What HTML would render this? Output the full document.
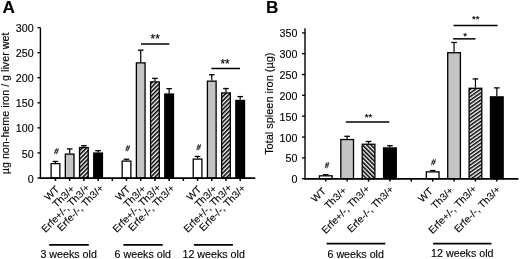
<!DOCTYPE html>
<html><head><meta charset="utf-8"><title>Figure</title>
<style>html,body{margin:0;padding:0;background:#fff;}body{width:520px;height:259px;overflow:hidden;}svg{display:block;font-family:"Liberation Sans", sans-serif;will-change:transform;}text{fill:#000;stroke:#000;stroke-width:0.12px;}</style>
</head><body>
<svg width="520" height="259" viewBox="0 0 520 259">
<defs>
<pattern id="hatA" patternUnits="userSpaceOnUse" width="3" height="3" patternTransform="rotate(45)"><rect x="0" y="0" width="3" height="3" fill="#fff"/><rect x="0" y="0" width="1.6" height="3" fill="#000"/></pattern>
<pattern id="hatB" patternUnits="userSpaceOnUse" width="3" height="3" patternTransform="rotate(-45)"><rect x="0" y="0" width="3" height="3" fill="#fff"/><rect x="0" y="0" width="1.6" height="3" fill="#000"/></pattern>
<pattern id="hatC" patternUnits="userSpaceOnUse" width="2.95" height="3" patternTransform="rotate(55)"><rect x="0" y="0" width="2.95" height="3" fill="#fff"/><rect x="0" y="0" width="1.5" height="3" fill="#000"/></pattern>
</defs>
<rect width="520" height="259" fill="#fff"/>
<text x="2.4" y="13.4" font-size="17.2" font-weight="bold">A</text>
<text x="266" y="13.4" font-size="17.2" font-weight="bold">B</text>
<line x1="55.46" y1="162.96" x2="55.46" y2="161.46" stroke="#000" stroke-width="1.2"/>
<line x1="52.66" y1="161.46" x2="58.26" y2="161.46" stroke="#000" stroke-width="1.3"/>
<rect x="51.11" y="163.61" width="8.7" height="14.39" fill="#fff" stroke="#000" stroke-width="1.3"/>
<line x1="69.67" y1="153.44" x2="69.67" y2="148.92" stroke="#000" stroke-width="1.2"/>
<line x1="66.87" y1="148.92" x2="72.47" y2="148.92" stroke="#000" stroke-width="1.3"/>
<rect x="65.32" y="154.09" width="8.7" height="23.91" fill="#c4c4c4" stroke="#000" stroke-width="1.3"/>
<line x1="83.88" y1="146.92" x2="83.88" y2="145.67" stroke="#000" stroke-width="1.2"/>
<line x1="81.08" y1="145.67" x2="86.68" y2="145.67" stroke="#000" stroke-width="1.3"/>
<rect x="79.53" y="147.57" width="8.7" height="30.43" fill="url(#hatA)" stroke="#000" stroke-width="1.3"/>
<line x1="98.09" y1="152.43" x2="98.09" y2="150.68" stroke="#000" stroke-width="1.2"/>
<line x1="95.29" y1="150.68" x2="100.89" y2="150.68" stroke="#000" stroke-width="1.3"/>
<rect x="93.74" y="153.08" width="8.7" height="24.92" fill="#000" stroke="#000" stroke-width="1.3"/>
<line x1="126.51" y1="160.45" x2="126.51" y2="159.25" stroke="#000" stroke-width="1.2"/>
<line x1="123.71" y1="159.25" x2="129.31" y2="159.25" stroke="#000" stroke-width="1.3"/>
<rect x="122.16" y="161.1" width="8.7" height="16.9" fill="#fff" stroke="#000" stroke-width="1.3"/>
<line x1="140.72" y1="62.2" x2="140.72" y2="50.17" stroke="#000" stroke-width="1.2"/>
<line x1="137.92" y1="50.17" x2="143.52" y2="50.17" stroke="#000" stroke-width="1.3"/>
<rect x="136.37" y="62.85" width="8.7" height="115.15" fill="#c4c4c4" stroke="#000" stroke-width="1.3"/>
<line x1="154.93" y1="81.25" x2="154.93" y2="78.39" stroke="#000" stroke-width="1.2"/>
<line x1="152.13" y1="78.39" x2="157.73" y2="78.39" stroke="#000" stroke-width="1.3"/>
<rect x="150.58" y="81.9" width="8.7" height="96.1" fill="url(#hatA)" stroke="#000" stroke-width="1.3"/>
<line x1="169.14" y1="93.38" x2="169.14" y2="88.62" stroke="#000" stroke-width="1.2"/>
<line x1="166.34" y1="88.62" x2="171.94" y2="88.62" stroke="#000" stroke-width="1.3"/>
<rect x="164.79" y="94.03" width="8.7" height="83.97" fill="#000" stroke="#000" stroke-width="1.3"/>
<line x1="197.56" y1="158.45" x2="197.56" y2="156.44" stroke="#000" stroke-width="1.2"/>
<line x1="194.76" y1="156.44" x2="200.36" y2="156.44" stroke="#000" stroke-width="1.3"/>
<rect x="193.21" y="159.1" width="8.7" height="18.9" fill="#fff" stroke="#000" stroke-width="1.3"/>
<line x1="211.77" y1="80.5" x2="211.77" y2="74.73" stroke="#000" stroke-width="1.2"/>
<line x1="208.97" y1="74.73" x2="214.57" y2="74.73" stroke="#000" stroke-width="1.3"/>
<rect x="207.42" y="81.15" width="8.7" height="96.85" fill="#c4c4c4" stroke="#000" stroke-width="1.3"/>
<line x1="225.98" y1="92.28" x2="225.98" y2="88.52" stroke="#000" stroke-width="1.2"/>
<line x1="223.18" y1="88.52" x2="228.78" y2="88.52" stroke="#000" stroke-width="1.3"/>
<rect x="221.63" y="92.93" width="8.7" height="85.07" fill="url(#hatA)" stroke="#000" stroke-width="1.3"/>
<line x1="240.19" y1="99.8" x2="240.19" y2="96.59" stroke="#000" stroke-width="1.2"/>
<line x1="237.39" y1="96.59" x2="242.99" y2="96.59" stroke="#000" stroke-width="1.3"/>
<rect x="235.84" y="100.45" width="8.7" height="77.55" fill="#000" stroke="#000" stroke-width="1.3"/>
<line x1="40.4" y1="27.6" x2="40.4" y2="178.7" stroke="#000" stroke-width="1.4"/>
<line x1="39.7" y1="178.1" x2="255.3" y2="178.1" stroke="#000" stroke-width="1.8"/>
<line x1="37.4" y1="178" x2="40.4" y2="178" stroke="#000" stroke-width="1.3"/>
<text transform="translate(33.6,182.6) scale(1.07,1)" text-anchor="end" font-size="10">0</text>
<line x1="37.4" y1="152.94" x2="40.4" y2="152.94" stroke="#000" stroke-width="1.3"/>
<text transform="translate(33.6,157.53) scale(1.07,1)" text-anchor="end" font-size="10">50</text>
<line x1="37.4" y1="127.87" x2="40.4" y2="127.87" stroke="#000" stroke-width="1.3"/>
<text transform="translate(33.6,132.47) scale(1.07,1)" text-anchor="end" font-size="10">100</text>
<line x1="37.4" y1="102.81" x2="40.4" y2="102.81" stroke="#000" stroke-width="1.3"/>
<text transform="translate(33.6,107.41) scale(1.07,1)" text-anchor="end" font-size="10">150</text>
<line x1="37.4" y1="77.74" x2="40.4" y2="77.74" stroke="#000" stroke-width="1.3"/>
<text transform="translate(33.6,82.34) scale(1.07,1)" text-anchor="end" font-size="10">200</text>
<line x1="37.4" y1="52.68" x2="40.4" y2="52.68" stroke="#000" stroke-width="1.3"/>
<text transform="translate(33.6,57.28) scale(1.07,1)" text-anchor="end" font-size="10">250</text>
<line x1="37.4" y1="27.61" x2="40.4" y2="27.61" stroke="#000" stroke-width="1.3"/>
<text transform="translate(33.6,32.21) scale(1.07,1)" text-anchor="end" font-size="10">300</text>
<line x1="55.46" y1="178" x2="55.46" y2="180.9" stroke="#000" stroke-width="1.5"/>
<line x1="69.67" y1="178" x2="69.67" y2="180.9" stroke="#000" stroke-width="1.5"/>
<line x1="83.88" y1="178" x2="83.88" y2="180.9" stroke="#000" stroke-width="1.5"/>
<line x1="98.09" y1="178" x2="98.09" y2="180.9" stroke="#000" stroke-width="1.5"/>
<line x1="112.3" y1="178" x2="112.3" y2="180.9" stroke="#000" stroke-width="1.5"/>
<line x1="126.51" y1="178" x2="126.51" y2="180.9" stroke="#000" stroke-width="1.5"/>
<line x1="140.72" y1="178" x2="140.72" y2="180.9" stroke="#000" stroke-width="1.5"/>
<line x1="154.93" y1="178" x2="154.93" y2="180.9" stroke="#000" stroke-width="1.5"/>
<line x1="169.14" y1="178" x2="169.14" y2="180.9" stroke="#000" stroke-width="1.5"/>
<line x1="183.35" y1="178" x2="183.35" y2="180.9" stroke="#000" stroke-width="1.5"/>
<line x1="197.56" y1="178" x2="197.56" y2="180.9" stroke="#000" stroke-width="1.5"/>
<line x1="211.77" y1="178" x2="211.77" y2="180.9" stroke="#000" stroke-width="1.5"/>
<line x1="225.98" y1="178" x2="225.98" y2="180.9" stroke="#000" stroke-width="1.5"/>
<line x1="240.19" y1="178" x2="240.19" y2="180.9" stroke="#000" stroke-width="1.5"/>
<line x1="325.78" y1="175.16" x2="325.78" y2="174.7" stroke="#000" stroke-width="1.2"/>
<line x1="322.98" y1="174.7" x2="328.58" y2="174.7" stroke="#000" stroke-width="1.3"/>
<rect x="319.43" y="175.81" width="12.7" height="2.89" fill="#fff" stroke="#000" stroke-width="1.3"/>
<line x1="347.16" y1="138.91" x2="347.16" y2="136.29" stroke="#000" stroke-width="1.2"/>
<line x1="344.36" y1="136.29" x2="349.96" y2="136.29" stroke="#000" stroke-width="1.3"/>
<rect x="340.81" y="139.56" width="12.7" height="39.14" fill="#c4c4c4" stroke="#000" stroke-width="1.3"/>
<line x1="368.54" y1="143.58" x2="368.54" y2="141.5" stroke="#000" stroke-width="1.2"/>
<line x1="365.74" y1="141.5" x2="371.34" y2="141.5" stroke="#000" stroke-width="1.3"/>
<rect x="362.19" y="144.23" width="12.7" height="34.47" fill="url(#hatB)" stroke="#000" stroke-width="1.3"/>
<line x1="389.92" y1="147.29" x2="389.92" y2="145.71" stroke="#000" stroke-width="1.2"/>
<line x1="387.12" y1="145.71" x2="392.72" y2="145.71" stroke="#000" stroke-width="1.3"/>
<rect x="383.57" y="147.94" width="12.7" height="30.76" fill="#000" stroke="#000" stroke-width="1.3"/>
<line x1="432.68" y1="171.2" x2="432.68" y2="170.53" stroke="#000" stroke-width="1.2"/>
<line x1="429.88" y1="170.53" x2="435.48" y2="170.53" stroke="#000" stroke-width="1.3"/>
<rect x="426.33" y="171.85" width="12.7" height="6.85" fill="#fff" stroke="#000" stroke-width="1.3"/>
<line x1="454.06" y1="52.05" x2="454.06" y2="42.47" stroke="#000" stroke-width="1.2"/>
<line x1="451.26" y1="42.47" x2="456.86" y2="42.47" stroke="#000" stroke-width="1.3"/>
<rect x="447.71" y="52.7" width="12.7" height="126" fill="#c4c4c4" stroke="#000" stroke-width="1.3"/>
<line x1="475.44" y1="87.63" x2="475.44" y2="78.92" stroke="#000" stroke-width="1.2"/>
<line x1="472.64" y1="78.92" x2="478.24" y2="78.92" stroke="#000" stroke-width="1.3"/>
<rect x="469.09" y="88.28" width="12.7" height="90.42" fill="url(#hatC)" stroke="#000" stroke-width="1.3"/>
<line x1="496.82" y1="96.21" x2="496.82" y2="87.88" stroke="#000" stroke-width="1.2"/>
<line x1="494.02" y1="87.88" x2="499.62" y2="87.88" stroke="#000" stroke-width="1.3"/>
<rect x="490.47" y="96.86" width="12.7" height="81.84" fill="#000" stroke="#000" stroke-width="1.3"/>
<line x1="305" y1="28.2" x2="305" y2="179.4" stroke="#000" stroke-width="1.4"/>
<line x1="304.3" y1="178.8" x2="518.4" y2="178.8" stroke="#000" stroke-width="1.8"/>
<line x1="302" y1="178.7" x2="305" y2="178.7" stroke="#000" stroke-width="1.3"/>
<text transform="translate(297.4,183.3) scale(1.07,1)" text-anchor="end" font-size="10">0</text>
<line x1="302" y1="157.87" x2="305" y2="157.87" stroke="#000" stroke-width="1.3"/>
<text transform="translate(297.4,162.47) scale(1.07,1)" text-anchor="end" font-size="10">50</text>
<line x1="302" y1="137.04" x2="305" y2="137.04" stroke="#000" stroke-width="1.3"/>
<text transform="translate(297.4,141.64) scale(1.07,1)" text-anchor="end" font-size="10">100</text>
<line x1="302" y1="116.21" x2="305" y2="116.21" stroke="#000" stroke-width="1.3"/>
<text transform="translate(297.4,120.81) scale(1.07,1)" text-anchor="end" font-size="10">150</text>
<line x1="302" y1="95.38" x2="305" y2="95.38" stroke="#000" stroke-width="1.3"/>
<text transform="translate(297.4,99.98) scale(1.07,1)" text-anchor="end" font-size="10">200</text>
<line x1="302" y1="74.55" x2="305" y2="74.55" stroke="#000" stroke-width="1.3"/>
<text transform="translate(297.4,79.15) scale(1.07,1)" text-anchor="end" font-size="10">250</text>
<line x1="302" y1="53.72" x2="305" y2="53.72" stroke="#000" stroke-width="1.3"/>
<text transform="translate(297.4,58.32) scale(1.07,1)" text-anchor="end" font-size="10">300</text>
<line x1="302" y1="32.89" x2="305" y2="32.89" stroke="#000" stroke-width="1.3"/>
<text transform="translate(297.4,37.49) scale(1.07,1)" text-anchor="end" font-size="10">350</text>
<line x1="325.78" y1="178.7" x2="325.78" y2="181.6" stroke="#000" stroke-width="1.5"/>
<line x1="347.16" y1="178.7" x2="347.16" y2="181.6" stroke="#000" stroke-width="1.5"/>
<line x1="368.54" y1="178.7" x2="368.54" y2="181.6" stroke="#000" stroke-width="1.5"/>
<line x1="389.92" y1="178.7" x2="389.92" y2="181.6" stroke="#000" stroke-width="1.5"/>
<line x1="411.3" y1="178.7" x2="411.3" y2="181.6" stroke="#000" stroke-width="1.5"/>
<line x1="432.68" y1="178.7" x2="432.68" y2="181.6" stroke="#000" stroke-width="1.5"/>
<line x1="454.06" y1="178.7" x2="454.06" y2="181.6" stroke="#000" stroke-width="1.5"/>
<line x1="475.44" y1="178.7" x2="475.44" y2="181.6" stroke="#000" stroke-width="1.5"/>
<line x1="496.82" y1="178.7" x2="496.82" y2="181.6" stroke="#000" stroke-width="1.5"/>
<text transform="translate(8.7,103.4) rotate(-90) scale(1.075,1)" text-anchor="middle" font-size="10">µg non-heme iron / g liver wet</text>
<text transform="translate(272.6,103.7) rotate(-90) scale(1.095,1)" text-anchor="middle" font-size="10">Total spleen iron (µg)</text>
<text transform="translate(59.86,190) rotate(-45) scale(1.03,1)" text-anchor="end" font-size="10">WT</text>
<text transform="translate(75.37,189.4) rotate(-45) scale(1.03,1)" text-anchor="end" font-size="10">Th3/+</text>
<text transform="translate(90.38,188.3) rotate(-45) scale(1.03,1)" text-anchor="end" font-size="10">Erfe+/-, Th3/+</text>
<text transform="translate(104.19,188.7) rotate(-45) scale(1.03,1)" text-anchor="end" font-size="10">Erfe-/-, Th3/+</text>
<text transform="translate(130.91,190) rotate(-45) scale(1.03,1)" text-anchor="end" font-size="10">WT</text>
<text transform="translate(146.42,189.4) rotate(-45) scale(1.03,1)" text-anchor="end" font-size="10">Th3/+</text>
<text transform="translate(161.43,188.3) rotate(-45) scale(1.03,1)" text-anchor="end" font-size="10">Erfe+/-, Th3/+</text>
<text transform="translate(175.24,188.7) rotate(-45) scale(1.03,1)" text-anchor="end" font-size="10">Erfe-/-, Th3/+</text>
<text transform="translate(201.96,190) rotate(-45) scale(1.03,1)" text-anchor="end" font-size="10">WT</text>
<text transform="translate(217.47,189.4) rotate(-45) scale(1.03,1)" text-anchor="end" font-size="10">Th3/+</text>
<text transform="translate(232.48,188.3) rotate(-45) scale(1.03,1)" text-anchor="end" font-size="10">Erfe+/-, Th3/+</text>
<text transform="translate(246.29,188.7) rotate(-45) scale(1.03,1)" text-anchor="end" font-size="10">Erfe-/-, Th3/+</text>
<text transform="translate(326.58,191.8) rotate(-45) scale(1.03,1)" text-anchor="end" font-size="10">WT</text>
<text transform="translate(347.2,191) rotate(-45) scale(1.03,1)" text-anchor="end" font-size="10">Th3/+</text>
<text transform="translate(370.4,189.5) rotate(-45) scale(1.03,1)" text-anchor="end" font-size="10">Erfe+/-, Th3/+</text>
<text transform="translate(394.22,190.1) rotate(-45) scale(1.03,1)" text-anchor="end" font-size="10">Erfe-/-, Th3/+</text>
<text transform="translate(433.48,191.8) rotate(-45) scale(1.03,1)" text-anchor="end" font-size="10">WT</text>
<text transform="translate(454.1,191) rotate(-45) scale(1.03,1)" text-anchor="end" font-size="10">Th3/+</text>
<text transform="translate(477.3,189.5) rotate(-45) scale(1.03,1)" text-anchor="end" font-size="10">Erfe+/-, Th3/+</text>
<text transform="translate(501.12,190.1) rotate(-45) scale(1.03,1)" text-anchor="end" font-size="10">Erfe-/-, Th3/+</text>
<line x1="49.1" y1="244.8" x2="88.8" y2="244.8" stroke="#000" stroke-width="1.7"/>
<text transform="translate(68.65,257.6) scale(1.07,1)" text-anchor="middle" font-size="10">3 weeks old</text>
<line x1="123.4" y1="244.8" x2="162.7" y2="244.8" stroke="#000" stroke-width="1.7"/>
<text transform="translate(142.8,257.6) scale(1.07,1)" text-anchor="middle" font-size="10">6 weeks old</text>
<line x1="193.9" y1="244.8" x2="232.9" y2="244.8" stroke="#000" stroke-width="1.7"/>
<text transform="translate(213.65,257.6) scale(1.07,1)" text-anchor="middle" font-size="10">12 weeks old</text>
<line x1="326.6" y1="243.6" x2="385.3" y2="243.6" stroke="#000" stroke-width="1.7"/>
<text transform="translate(355.7,257.5) scale(1.07,1)" text-anchor="middle" font-size="10">6 weeks old</text>
<line x1="433.1" y1="243.6" x2="491.5" y2="243.6" stroke="#000" stroke-width="1.7"/>
<text transform="translate(462.3,257.3) scale(1.07,1)" text-anchor="middle" font-size="10">12 weeks old</text>
<line x1="141" y1="44" x2="169.3" y2="44" stroke="#000" stroke-width="1.5"/>
<text x="150.56" y="42.7" font-size="11.9" style="stroke-width:0.2px">**</text>
<line x1="211.4" y1="68.5" x2="240" y2="68.5" stroke="#000" stroke-width="1.5"/>
<text x="220.46" y="67.55" font-size="11.9" style="stroke-width:0.2px">**</text>
<line x1="345.8" y1="121.9" x2="389.3" y2="121.9" stroke="#000" stroke-width="1.5"/>
<text x="364.81" y="119.82" font-size="9.6" style="stroke-width:0.2px">**</text>
<line x1="453.5" y1="25.4" x2="497.6" y2="25.4" stroke="#000" stroke-width="1.5"/>
<text x="472.01" y="22.27" font-size="9.6" style="stroke-width:0.2px">**</text>
<line x1="453.1" y1="38.85" x2="475.5" y2="38.85" stroke="#000" stroke-width="1.5"/>
<text x="463.28" y="39.27" font-size="9.6" style="stroke-width:0.2px">*</text>
<text transform="translate(55.95,154.29) skewX(-8) scale(0.9,1)" font-size="8.3" text-anchor="middle" style="stroke-width:0.25px">#</text>
<text transform="translate(127.25,151.44) skewX(-8) scale(0.9,1)" font-size="8.3" text-anchor="middle" style="stroke-width:0.25px">#</text>
<text transform="translate(198.3,149.64) skewX(-8) scale(0.9,1)" font-size="8.3" text-anchor="middle" style="stroke-width:0.25px">#</text>
<text transform="translate(326.5,167.69) skewX(-8) scale(0.9,1)" font-size="8.3" text-anchor="middle" style="stroke-width:0.25px">#</text>
<text transform="translate(433.1,164.54) skewX(-8) scale(0.9,1)" font-size="8.3" text-anchor="middle" style="stroke-width:0.25px">#</text>
</svg>
</body></html>
